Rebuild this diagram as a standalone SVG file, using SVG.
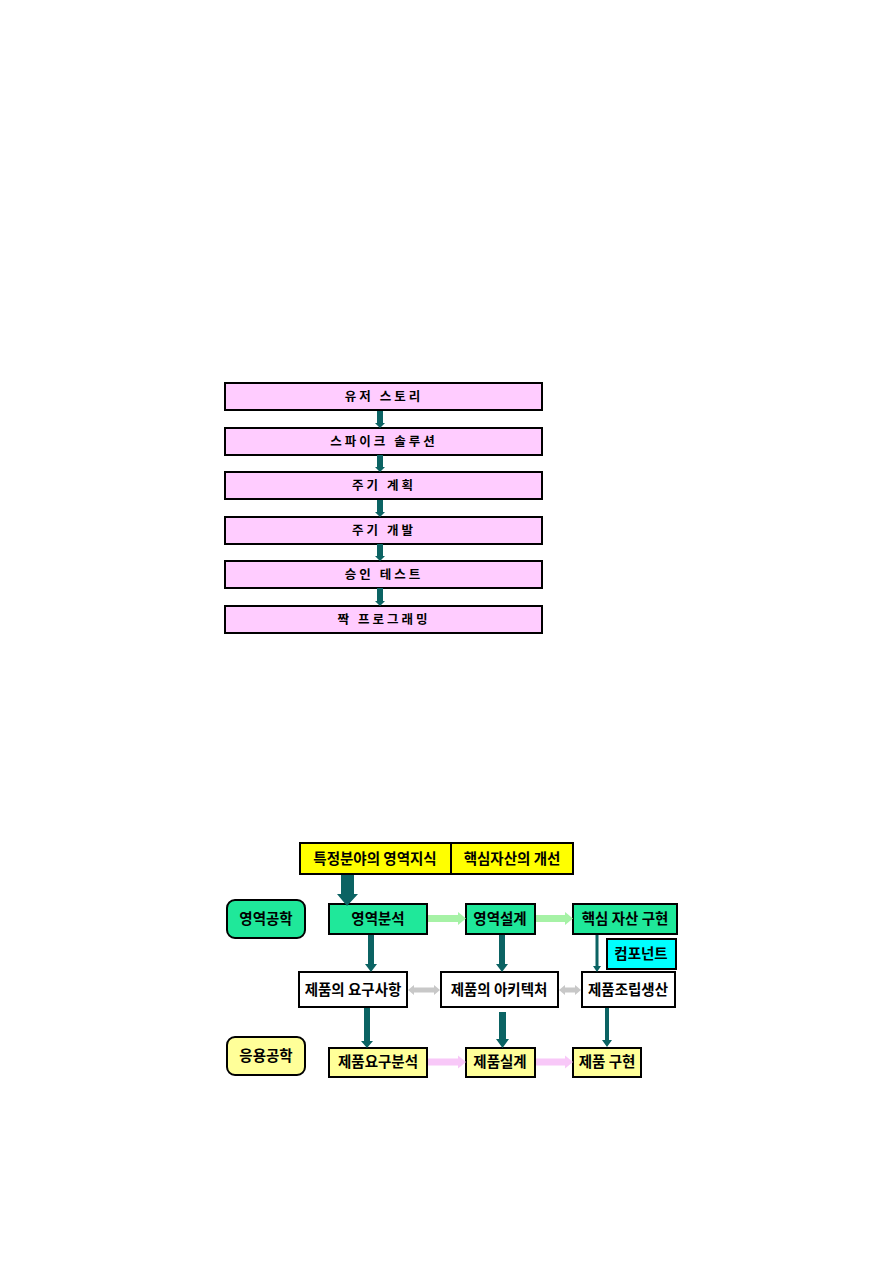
<svg xmlns="http://www.w3.org/2000/svg" width="893" height="1262" viewBox="0 0 893 1262">
<style>
  .t { font-family: "Noto Sans CJK KR", "Noto Sans", sans-serif; font-weight: 700; text-anchor: middle; fill: #000; }
  .ts { font-size: 12.5px; letter-spacing: 3px; }
  .tb { font-size: 14.5px; }
  .box { stroke: #000; stroke-width: 2; }
  .pink { fill: #ffccff; }
  .yel { fill: #ffff00; }
  .grn { fill: #1fe89a; }
  .pale { fill: #ffff99; }
  .wht { fill: #ffffff; }
  .cyan { fill: #00ffff; }
  .teal { fill: #0b6363; }
  .lg { fill: #a6f2a6; }
  .gr { fill: #c8c8c8; }
  .pk { fill: #f8c8f8; }
</style>
<rect width="893" height="1262" fill="#ffffff"/>

<!-- top flow -->
<g id="n-user-story"><rect class="box pink" x="225" y="383" width="317" height="27"/><text class="t ts" x="384" y="401">유저 스토리</text></g>
<g id="n-spike"><rect class="box pink" x="225" y="428" width="317" height="27"/><text class="t ts" x="384" y="446">스파이크 솔루션</text></g>
<g id="n-iter-plan"><rect class="box pink" x="225" y="472" width="317" height="27"/><text class="t ts" x="384" y="490">주기 계획</text></g>
<g id="n-iter-dev"><rect class="box pink" x="225" y="517" width="317" height="27"/><text class="t ts" x="384" y="535">주기 개발</text></g>
<g id="n-accept"><rect class="box pink" x="225" y="561" width="317" height="27"/><text class="t ts" x="384" y="579">승인 테스트</text></g>
<g id="n-pair"><rect class="box pink" x="225" y="606" width="317" height="27"/><text class="t ts" x="384" y="624">짝 프로그래밍</text></g>

<!-- bottom diagram nodes -->
<g id="n-domain-knowledge"><rect class="box yel" x="300" y="843" width="151" height="31"/><text class="t tb" x="375" y="864">특정분야의 영역지식</text></g>
<g id="n-core-improve"><rect class="box yel" x="451" y="843" width="122" height="31"/><text class="t tb" x="512" y="864">핵심자산의 개선</text></g>
<g id="n-domain-eng"><rect class="box grn" x="227" y="900" width="78" height="38" rx="8"/><text class="t tb" x="266" y="924">영역공학</text></g>
<g id="n-domain-analysis"><rect class="box grn" x="329" y="904" width="98" height="30"/><text class="t tb" x="378" y="924">영역분석</text></g>
<g id="n-domain-design"><rect class="box grn" x="466" y="904" width="69" height="30"/><text class="t tb" x="500" y="924">영역설계</text></g>
<g id="n-core-impl"><rect class="box grn" x="573" y="904" width="104" height="30"/><text class="t tb" x="625" y="924">핵심 자산 구현</text></g>
<g id="n-component"><rect class="box cyan" x="607" y="939" width="69" height="30"/><text class="t tb" x="641" y="959">컴포넌트</text></g>
<g id="n-prod-req"><rect class="box wht" x="299" y="972" width="108" height="35"/><text class="t tb" x="353" y="995">제품의 요구사항</text></g>
<g id="n-prod-arch"><rect class="box wht" x="441" y="972" width="117" height="35"/><text class="t tb" x="499" y="995">제품의 아키텍처</text></g>
<g id="n-prod-assembly"><rect class="box wht" x="582" y="972" width="93" height="35"/><text class="t tb" x="628" y="995">제품조립생산</text></g>
<g id="n-app-eng"><rect class="box pale" x="227" y="1037" width="78" height="38" rx="8"/><text class="t tb" x="266" y="1061">응용공학</text></g>
<g id="n-prod-req-analysis"><rect class="box pale" x="329" y="1048" width="98" height="29"/><text class="t tb" x="378" y="1067">제품요구분석</text></g>
<g id="n-prod-design"><rect class="box pale" x="466" y="1048" width="69" height="29"/><text class="t tb" x="500" y="1067">제품실계</text></g>
<g id="n-prod-impl"><rect class="box pale" x="573" y="1048" width="68" height="29"/><text class="t tb" x="607" y="1067">제품 구현</text></g>

<g id="connectors">
  <!-- top flow arrows -->
  <polygon class="teal" points="377,411 383,411 383,423 385,423 380,428 375,423 377,423"/>
  <polygon class="teal" points="377,455 383,455 383,467 385,467 380,472 375,467 377,467"/>
  <polygon class="teal" points="377,500 383,500 383,512 385,512 380,517 375,512 377,512"/>
  <polygon class="teal" points="377,544 383,544 383,556 385,556 380,561 375,556 377,556"/>
  <polygon class="teal" points="377,588 383,588 383,601 385,601 380,606 375,601 377,601"/>

  <!-- big arrow -->
  <polygon class="teal" points="341,875 354,875 354,894 358,894 347,906 337,894 341,894"/>

  <!-- light green arrows -->
  <polygon class="lg" points="428,915 458,915 458,912 466,918.5 458,925 458,922 428,922"/>
  <polygon class="lg" points="536,915 565,915 565,912 573,918.5 565,925 565,922 536,922"/>

  <!-- teal verticals row 1 -->
  <polygon class="teal" points="368,935 374,935 374,964 377,964 371,972 365,964 368,964"/>
  <polygon class="teal" points="499,935 505,935 505,964 508,964 502,972 496,964 499,964"/>
  <polygon class="teal" points="595.5,935 598.5,935 598.5,966 601,966 597,972 593,966 595.5,966"/>

  <!-- gray double arrows -->
  <polygon class="gr" points="408,990 414,985 414,987.5 434,987.5 434,985 440,990 434,995 434,992.5 414,992.5 414,995"/>
  <polygon class="gr" points="559,990 565,985 565,987.5 575,987.5 575,985 581,990 575,995 575,992.5 565,992.5 565,995"/>

  <!-- teal verticals row 2 -->
  <polygon class="teal" points="364,1008 370,1008 370,1041 373,1041 367,1048 361,1041 364,1041"/>
  <polygon class="teal" points="499,1012 506,1012 506,1039 509,1039 502.5,1048 496,1039 499,1039"/>
  <polygon class="teal" points="605,1008 609,1008 609,1040 612,1040 607,1047 602,1040 605,1040"/>

  <!-- pink arrows -->
  <polygon class="pk" points="428,1058.5 458,1058.5 458,1055.5 466,1062 458,1068.5 458,1065.5 428,1065.5"/>
  <polygon class="pk" points="536,1058.5 565,1058.5 565,1055.5 573,1062 565,1068.5 565,1065.5 536,1065.5"/>
</g>
</svg>
